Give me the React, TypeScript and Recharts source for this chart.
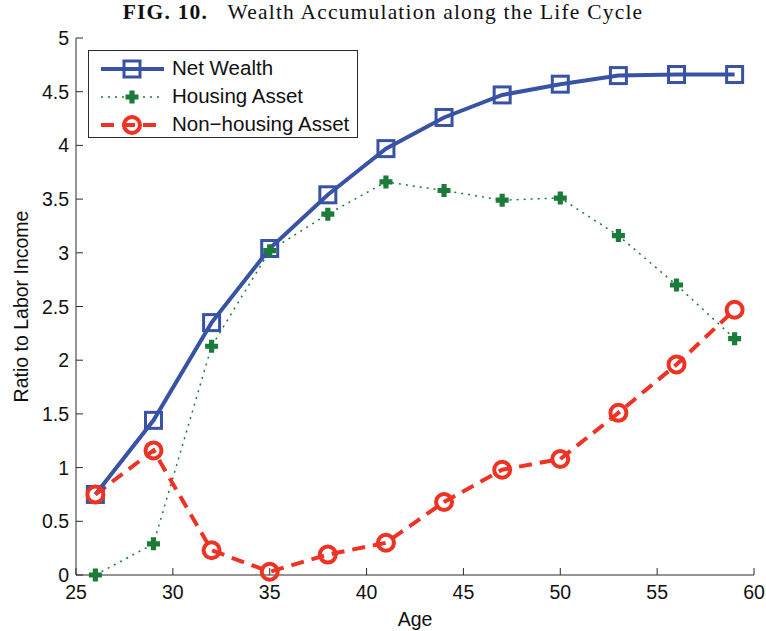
import { LineChart, Line, XAxis, YAxis, Label } from 'recharts';

const ages = [26, 29, 32, 35, 38, 41, 44, 47, 50, 53, 56, 59];
const netWealth = [0.75, 1.44, 2.35, 3.04, 3.54, 3.97, 4.26, 4.47, 4.57, 4.65, 4.66, 4.66];
const housingAsset = [0.0, 0.29, 2.13, 3.02, 3.36, 3.66, 3.58, 3.49, 3.51, 3.16, 2.7, 2.2];
const nonHousingAsset = [0.75, 1.16, 0.23, 0.03, 0.19, 0.3, 0.68, 0.98, 1.08, 1.51, 1.96, 2.47];

const xTicks = [25, 30, 35, 40, 45, 50, 55, 60];
const yTicks = [0, 0.5, 1, 1.5, 2, 2.5, 3, 3.5, 4, 4.5, 5];

const BLUE = '#3953a4';
const GREEN = '#1c7a3a';
const RED = '#ee3224';
const AXIS = '#2b2b2b';
const FONT = '"Liberation Sans", Arial, sans-serif';
const FS = 19.5;

const data = ages.map((age, i) => ({
  age,
  net: netWealth[i],
  housing: housingAsset[i],
  nonHousing: nonHousingAsset[i],
}));

const W = 766;
const H = 631;
const TICK_LEN = 7;

function SquareMark(props: any) {
  const { cx, cy, index } = props;
  if (cx == null || cy == null) return null;
  return (
    <rect key={`sq-${index}`} x={cx - 8} y={cy - 8} width={16} height={16}
      fill="none" stroke={BLUE} strokeWidth={3} />
  );
}

function PlusMark(props: any) {
  const { cx, cy, index } = props;
  if (cx == null || cy == null) return null;
  const a = 6.5;
  const b = 2.6;
  const d = `M${cx - b},${cy - a}H${cx + b}V${cy - b}H${cx + a}V${cy + b}H${cx + b}V${cy + a}H${cx - b}V${cy + b}H${cx - a}V${cy - b}H${cx - b}Z`;
  return <path key={`pl-${index}`} d={d} fill={GREEN} />;
}

function CircleMark(props: any) {
  const { cx, cy, index } = props;
  if (cx == null || cy == null) return null;
  return (
    <circle key={`ci-${index}`} cx={cx} cy={cy} r={8}
      fill="none" stroke={RED} strokeWidth={4} />
  );
}

// inward-pointing ticks, matlab style
function BottomTick({ x, y, payload }: any) {
  return (
    <g>
      <line x1={x} x2={x} y1={y} y2={y - TICK_LEN} stroke={AXIS} />
      <text x={x} y={y + 24} textAnchor="middle" fontSize={FS} fontFamily={FONT} fill="#111">
        {payload.value}
      </text>
    </g>
  );
}

function TopTick({ x, y }: any) {
  return <line x1={x} x2={x} y1={y} y2={y + TICK_LEN} stroke={AXIS} />;
}

function LeftTick({ x, y, payload }: any) {
  return (
    <g>
      <line x1={x} x2={x + TICK_LEN} y1={y} y2={y} stroke={AXIS} />
      <text x={x - 7} y={y + 7} textAnchor="end" fontSize={FS} fontFamily={FONT} fill="#111">
        {String(payload.value)}
      </text>
    </g>
  );
}

function RightTick({ x, y }: any) {
  return <line x1={x} x2={x - TICK_LEN} y1={y} y2={y} stroke={AXIS} />;
}

function LegendBox() {
  const rows = [
    { label: 'Net Wealth', color: BLUE, width: 4, dash: undefined, mark: 'square' },
    { label: 'Housing Asset', color: GREEN, width: 1.5, dash: '2 5', mark: 'plus' },
    { label: 'Non\u2212housing Asset', color: RED, width: 4, dash: '13 8', mark: 'circle' },
  ];
  return (
    <div
      style={{
        position: 'absolute', left: 88, top: 50, width: 270, height: 88,
        border: `1px solid ${AXIS}`, background: '#fff', boxSizing: 'border-box',
      }}
    >
      {rows.map((r, i) => (
        <div key={r.label} style={{ position: 'absolute', left: 0, top: 4 + i * 28, height: 28, width: '100%' }}>
          <svg width={80} height={28} style={{ position: 'absolute', left: 8, top: 0 }}>
            <line x1={4} x2={67} y1={14} y2={14} stroke={r.color} strokeWidth={r.width}
              strokeDasharray={r.dash} />
            {r.mark === 'square' && <SquareMark cx={35} cy={14} index={0} />}
            {r.mark === 'plus' && <PlusMark cx={35} cy={14} index={0} />}
            {r.mark === 'circle' && <CircleMark cx={35} cy={14} index={0} />}
          </svg>
          <span
            style={{
              position: 'absolute', left: 83, top: 1, fontFamily: FONT, fontSize: 20.5,
              color: '#111', whiteSpace: 'nowrap',
            }}
          >
            {r.label}
          </span>
        </div>
      ))}
    </div>
  );
}

export default function App() {
  return (
    <div style={{ position: 'absolute', left: 0, top: 0, width: W, height: H, background: '#fff' }}>
      <div
        style={{
          position: 'absolute', left: 0, top: 0, width: W, textAlign: 'center',
          fontFamily: '"Liberation Serif", "Times New Roman", serif', fontSize: 21.5,
          letterSpacing: 1.2, color: '#111',
        }}
      >
        <b>FIG. 10.</b>&nbsp;&nbsp; Wealth Accumulation along the Life Cycle
      </div>
      <LineChart
        width={W}
        height={H}
        data={data}
        margin={{ top: 38, right: 12, bottom: 0, left: 0 }}
        style={{ position: 'absolute', left: 0, top: 0 }}
      >
        <XAxis
          dataKey="age"
          type="number"
          domain={[25, 60]}
          ticks={xTicks}
          interval={0}
          height={56}
          tickSize={0}
          tickMargin={0}
          tick={<BottomTick />}
          axisLine={{ stroke: AXIS }}
          tickLine={false}
        >
          <Label
            content={({ viewBox }: any) => (
              <text x={viewBox.x + viewBox.width / 2} y={viewBox.y + 51} textAnchor="middle"
                fontSize={FS} fontFamily={FONT} fill="#111">
                Age
              </text>
            )}
          />
        </XAxis>
        <XAxis
          xAxisId="top"
          orientation="top"
          dataKey="age"
          type="number"
          domain={[25, 60]}
          ticks={xTicks}
          interval={0}
          height={0}
          tickSize={0}
          tickMargin={0}
          tick={<TopTick />}
          axisLine={{ stroke: AXIS }}
          tickLine={false}
        />
        <YAxis
          type="number"
          domain={[0, 5]}
          ticks={yTicks}
          interval={0}
          width={76}
          tickSize={0}
          tickMargin={0}
          tick={<LeftTick />}
          axisLine={{ stroke: AXIS }}
          tickLine={false}
        >
          <Label
            content={({ viewBox }: any) => {
              const cx = viewBox.x + 21;
              const cy = viewBox.y + viewBox.height / 2;
              return (
                <text x={cx} y={cy} transform={`rotate(-90 ${cx} ${cy})`} textAnchor="middle"
                  dominantBaseline="central" fontSize={FS} fontFamily={FONT} fill="#111">
                  Ratio to Labor Income
                </text>
              );
            }}
          />
        </YAxis>
        <YAxis
          yAxisId="right"
          orientation="right"
          type="number"
          domain={[0, 5]}
          ticks={yTicks}
          interval={0}
          width={0}
          tickSize={0}
          tickMargin={0}
          tick={<RightTick />}
          axisLine={{ stroke: AXIS }}
          tickLine={false}
        />
        <Line
          dataKey="net"
          stroke={BLUE}
          strokeWidth={4}
          dot={SquareMark}
          activeDot={false}
          isAnimationActive={false}
        />
        <Line
          dataKey="housing"
          stroke={GREEN}
          strokeWidth={1.5}
          strokeDasharray="2 5"
          dot={PlusMark}
          activeDot={false}
          isAnimationActive={false}
        />
        <Line
          dataKey="nonHousing"
          stroke={RED}
          strokeWidth={4}
          strokeDasharray="13 8"
          dot={CircleMark}
          activeDot={false}
          isAnimationActive={false}
        />
      </LineChart>
      <LegendBox />
    </div>
  );
}
